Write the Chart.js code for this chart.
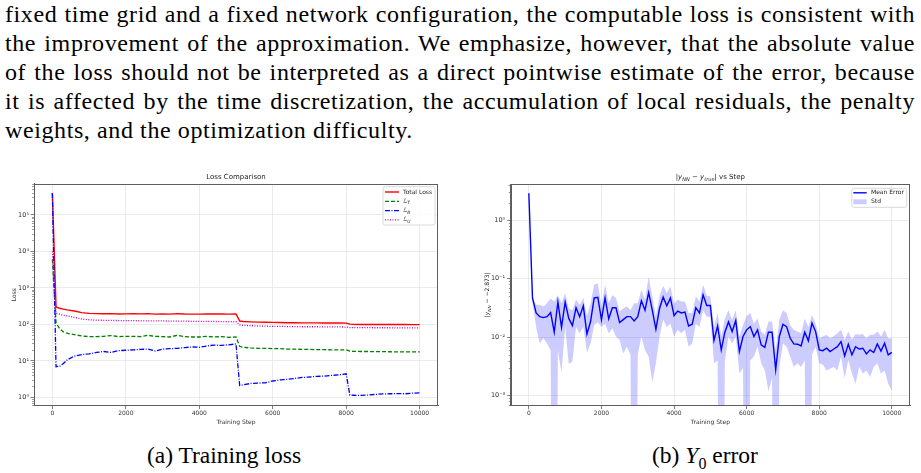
<!DOCTYPE html>
<html><head><meta charset="utf-8">
<script src="https://cdn.jsdelivr.net/npm/chart.js@4.4.1/dist/chart.umd.min.js"></script>
<style>
html,body{margin:0;padding:0;background:#fff;}
body{width:921px;height:473px;position:relative;overflow:hidden;font-family:"Liberation Serif",serif;color:#000;}
.para{position:absolute;left:5px;width:910px;top:0;font-size:24px;line-height:29px;letter-spacing:0.6px;}
.para div{text-align:justify;text-align-last:justify;height:29px;}
.para div.last{text-align-last:left;}
.cap{position:absolute;top:441px;font-size:23.5px;line-height:29px;text-align:center;width:300px;}
canvas{position:absolute;}
</style></head>
<body>
<div class="para">
<div>fixed time grid and a fixed network configuration, the computable loss is consistent with</div>
<div>the improvement of the approximation. We emphasize, however, that the absolute value</div>
<div>of the loss should not be interpreted as a direct pointwise estimate of the error, because</div>
<div>it is affected by the time discretization, the accumulation of local residuals, the penalty</div>
<div class="last">weights, and the optimization difficulty.</div>
</div>
<canvas id="c1" width="450" height="262" style="left:0px;top:168px;width:450px;height:262px"></canvas>
<canvas id="c2" width="459" height="262" style="left:462px;top:168px;width:459px;height:262px"></canvas>
<div class="cap" style="left:74px">(a) Training loss</div>
<div class="cap" style="left:555px">(b) <i>Y</i><sub style="font-size:16px">0</sub> error</div>
<script>
// ---------------- data: training loss ----------------
const lossSteps=[0,100,200,300,400,600,800,1000,1200,1400,1600,1800,2000,2200,2400,2600,2800,3000,3200,3400,3600,3800,4000,4200,4400,4600,4800,5000,5100,5200,5400,5600,5800,6000,6200,6400,6600,6800,7000,7200,7400,7600,7800,8000,8100,8200,8400,8600,8800,9000,9200,9400,9600,9800,10000];
const totalLoss=[4.0e5,300,275,262,250,232,210,200,196,195,196,192,194,195,193,197,191,192,191,196,192,191,190,193,192,192,191,192,123,120,117,115,114,113,112,111,111,110,110,110,109,109,109,108,101,100,99,99,99,99,99,99,99,98,98];
const lossT=[6000,110,75,62,57,52,48,46,46,47,49,46,47,47,46,50,47,46,45,50,46,45,45,47,45,46,44,45,25,23.5,22.5,22,22,21.5,21.5,21,21,20.5,20.5,20.3,20.2,20,20,20,18.5,18.2,18,18,17.8,17.8,17.7,17.6,17.6,17.5,17.5];
const lossB=[4.0e5,6.9,7.1,8.5,10.5,13.5,14.8,15.5,17,18,17,19,19.5,20,20.5,21,18.5,21,21.5,22,23,24,23.5,25.5,27,26.5,27.5,29,2.1,2.2,2.4,2.45,2.5,2.8,3.0,3.1,3.3,3.5,3.6,3.75,3.8,4.0,4.1,4.4,1.15,1.14,1.13,1.15,1.2,1.24,1.25,1.26,1.25,1.3,1.32];
const lossU=[1.0e4,200,190,180,170,155,140,133,130,129,128,127,126,126,125,125,124,124,123,123,122,121,121,120,120,119,119,118,96,94,92,90,89,88,88,87,87,86,86,86,85,85,85,84,81,81,81,81,80.5,80.5,80.5,80,80,80,80];
const lossTicksX=[0,2000,4000,6000,8000,10000];
const lossTicksY=[1,10,100,1e3,1e4,1e5];
const lossTickLabels=['10⁰','10¹','10²','10³','10⁴','10⁵'];

// ---------------- data: Y0 error ----------------
const errSteps=[0,100,200,300,400,500,600,700,800,900,1000,1100,1200,1300,1400,1500,1600,1700,1800,1900,2000,2100,2200,2300,2400,2500,2600,2700,2800,2900,3000,3100,3200,3300,3400,3500,3600,3700,3800,3900,4000,4100,4200,4300,4400,4500,4600,4700,4800,4900,5000,5100,5200,5300,5400,5500,5600,5700,5800,5900,6000,6100,6200,6300,6400,6500,6600,6700,6800,6900,7000,7100,7200,7300,7400,7500,7600,7700,7800,7900,8000,8100,8200,8300,8400,8500,8600,8700,8800,8900,9000,9100,9200,9300,9400,9500,9600,9700,9800,9900,10000];
const meanErr=[2.9,0.047,0.026,0.0225,0.0217,0.0225,0.0265,0.0122,0.040,0.0148,0.040,0.021,0.0158,0.032,0.0225,0.0344,0.0113,0.0186,0.047,0.048,0.0199,0.047,0.0206,0.032,0.032,0.0178,0.020,0.0225,0.0225,0.019,0.0225,0.042,0.029,0.058,0.029,0.0137,0.031,0.0485,0.0344,0.047,0.0235,0.028,0.026,0.027,0.0156,0.0167,0.032,0.026,0.053,0.035,0.035,0.0088,0.0156,0.0061,0.0122,0.0183,0.0125,0.0193,0.0057,0.0103,0.0134,0.0152,0.0103,0.0134,0.0074,0.0067,0.0122,0.0122,0.0028,0.0103,0.0167,0.0152,0.0096,0.0077,0.0076,0.0071,0.0122,0.0087,0.0174,0.0125,0.0061,0.0059,0.0065,0.0057,0.0063,0.0069,0.0084,0.0048,0.0076,0.005,0.0069,0.0063,0.0065,0.0052,0.0061,0.0055,0.0077,0.0058,0.0079,0.005,0.0055];
const bandUpper=[3.0,0.05,0.036,0.036,0.0336,0.038,0.046,0.041,0.053,0.038,0.057,0.031,0.029,0.044,0.036,0.047,0.023,0.038,0.079,0.084,0.034,0.079,0.038,0.053,0.047,0.0275,0.031,0.034,0.029,0.038,0.038,0.065,0.044,0.107,0.050,0.023,0.050,0.076,0.057,0.074,0.038,0.044,0.041,0.041,0.026,0.026,0.050,0.041,0.079,0.051,0.050,0.015,0.026,0.0103,0.021,0.029,0.020,0.029,0.0103,0.016,0.023,0.026,0.017,0.021,0.0125,0.011,0.0186,0.0186,0.006,0.020,0.029,0.026,0.016,0.0134,0.0125,0.0117,0.021,0.015,0.024,0.017,0.0096,0.0103,0.011,0.0096,0.0105,0.0117,0.0134,0.009,0.0125,0.0092,0.0114,0.011,0.0114,0.0096,0.011,0.011,0.0125,0.0103,0.0134,0.0096,0.0096];
// 0 = mean - std below zero (cannot be shown on a log axis)
const bandLower=[2.8,0.041,0.015,0.0078,0.0097,0.0078,0.006,0,0.006,0.0025,0.015,0.0035,0.0038,0.015,0.0117,0.015,0.0055,0.0078,0.016,0.018,0.015,0.017,0.0117,0.0143,0.0103,0.009,0.0053,0.0069,0.005,0,0.005,0.0103,0.006,0.0047,0.0017,0.0036,0.0103,0.02,0.015,0.017,0.0103,0.0134,0.0117,0.0134,0.0069,0.0078,0.017,0.015,0.029,0.0225,0.0225,0.0036,0.004,0,0.004,0.0103,0.0078,0.0103,0.0024,0.003,0,0.004,0.0047,0.0069,0.0036,0.0027,0.0012,0.002,0,0.003,0.0078,0.0069,0.0047,0.0031,0.0036,0.0031,0.004,0,0.005,0.0069,0.0036,0.0034,0.0027,0.0029,0.0031,0.0027,0.0047,0.002,0.0041,0.0024,0.0016,0.0031,0.0024,0.0027,0.0021,0.0031,0.0036,0.0024,0.0027,0.0016,0.0012];
const errTicksX=[0,2000,4000,6000,8000,10000];
const errTicksY=[1e-3,1e-2,1e-1,1];
const errTickLabels=['10⁻³','10⁻²','10⁻¹','10⁰'];

// ---------------- helpers ----------------
const FONT='"DejaVu Sans", sans-serif';
const pts=(xs,ys)=>xs.map((x,i)=>({x:x,y:ys[i]}));
function segFont(s,size){return (s.i?'italic ':'')+(s.sub?size*0.72:size)+'px '+FONT;}
function drawRich(ctx,segs,x,y,size,align){
  let w=0;
  segs.forEach(s=>{ctx.font=segFont(s,size);s.w=ctx.measureText(s.t).width;w+=s.w;});
  let cx=align==='center'?x-w/2:x;
  ctx.textAlign='left';ctx.textBaseline='middle';
  segs.forEach(s=>{ctx.font=segFont(s,size);ctx.fillText(s.t,cx,y+(s.sub?size*0.32:0));cx+=s.w;});
}
const framePlugin={id:'frame',afterDatasetsDraw(chart){
  const a=chart.chartArea,ctx=chart.ctx;ctx.save();
  ctx.strokeStyle='#5e5e5e';ctx.lineWidth=1;
  ctx.strokeRect(Math.round(a.left)+0.5,Math.round(a.top)+0.5,Math.round(a.right-a.left)-1,Math.round(a.bottom-a.top)-1);
  ctx.restore();}};
const minorPlugin={id:'minorTicks',afterDraw(chart){
  const y=chart.scales.y,a=chart.chartArea,ctx=chart.ctx;ctx.save();
  ctx.strokeStyle='#5e5e5e';ctx.lineWidth=0.6;
  for(let d=Math.floor(Math.log10(y.min));d<=Math.ceil(Math.log10(y.max));d++){
    for(let k=2;k<=9;k++){const v=k*Math.pow(10,d);if(v<y.min||v>y.max)continue;
      const py=Math.round(y.getPixelForValue(v))+0.5;
      ctx.beginPath();ctx.moveTo(a.left-2,py);ctx.lineTo(a.left,py);ctx.stroke();}}
  ctx.restore();}};
const legendPlugin={id:'boxLegend',afterDraw(chart,args,opts){
  const a=chart.chartArea,ctx=chart.ctx;ctx.save();
  const x2=a.right-opts.inset[0],y1=a.top+opts.inset[1],x1=x2-opts.w,y2=y1+opts.h;
  ctx.fillStyle='rgba(255,255,255,0.85)';ctx.strokeStyle='#d0d0d0';ctx.lineWidth=0.8;
  ctx.beginPath();ctx.roundRect(x1,y1,x2-x1,y2-y1,2);ctx.fill();ctx.stroke();
  opts.items.forEach((it,i)=>{
    const yy=y1+opts.first+i*opts.step;
    if(it.patch){ctx.fillStyle=it.color;ctx.fillRect(x1+opts.sx0,yy-2.5,opts.sx1-opts.sx0,5);}
    else{ctx.strokeStyle=it.color;ctx.lineWidth=it.width;ctx.setLineDash(it.dash||[]);
      ctx.beginPath();ctx.moveTo(x1+opts.sx0,yy);ctx.lineTo(x1+opts.sx1,yy);ctx.stroke();ctx.setLineDash([]);}
    ctx.fillStyle='#222';drawRich(ctx,it.label,x1+opts.tx,yy,6,'left');
  });
  ctx.restore();}};
const richTextPlugin={id:'richText',afterDraw(chart,args,opts){
  const ctx=chart.ctx,a=chart.chartArea;ctx.save();ctx.fillStyle='#222';
  (opts.items||[]).forEach(it=>{
    const x=it.rel==='center'?(a.left+a.right)/2:it.x;
    const y=it.relY==='middle'?(a.top+a.bottom)/2:it.y;
    if(it.rotate){ctx.save();ctx.translate(x,y);ctx.rotate(-Math.PI/2);drawRich(ctx,it.segs,0,0,it.size,'center');ctx.restore();}
    else drawRich(ctx,it.segs,x,y,it.size,'center');
  });
  ctx.restore();}};

const tickFont={family:FONT,size:6};
const gridCol='#e6e6e6';
function xScale(ticksArr,h){return {type:'linear',min:-500,max:10500,
  afterBuildTicks:s=>{s.ticks=ticksArr.map(v=>({value:v}));},
  afterFit:s=>{s.height=h;},
  ticks:{font:tickFont,color:'#333',padding:1,maxRotation:0,autoSkip:false,callback:v=>String(v)},
  grid:{color:gridCol,lineWidth:0.8,tickColor:'#5e5e5e',tickLength:3.5},
  border:{color:'#5e5e5e',width:1},
  title:{display:true,text:'Training Step',font:tickFont,color:'#333',padding:{top:0,bottom:4}}};}
function yScale(ticksArr,labels,min,max,w,pad,titleOpt){return {type:'logarithmic',min:min,max:max,
  afterBuildTicks:s=>{s.ticks=ticksArr.map(v=>({value:v}));},
  afterFit:s=>{s.width=w;},
  ticks:{font:{family:FONT,size:6.5},color:'#333',padding:pad,autoSkip:false,callback:(v,i)=>labels[ticksArr.indexOf(v)]},
  grid:{color:gridCol,lineWidth:0.8,tickColor:'#5e5e5e',tickLength:3.5},
  border:{color:'#5e5e5e',width:1},
  title:titleOpt};}

// ---------------- chart (a) ----------------
new Chart(document.getElementById('c1'),{
  type:'line',
  data:{datasets:[
    {label:'Total Loss',data:pts(lossSteps,totalLoss),borderColor:'#ff0000',borderWidth:1.4,order:3},
    {label:'L_T',data:pts(lossSteps,lossT),borderColor:'#008000',borderWidth:1.3,borderDash:[4,2],order:2},
    {label:'L_B',data:pts(lossSteps,lossB),borderColor:'#0000ff',borderWidth:1.3,borderDash:[5,1.5,1,1.5],order:1},
    {label:'L_U',data:pts(lossSteps,lossU),borderColor:'#bf00bf',borderWidth:1.3,borderDash:[1,1.5],order:0}
  ]},
  options:{animation:false,responsive:false,devicePixelRatio:1,
    elements:{point:{radius:0},line:{tension:0,fill:false}},
    layout:{padding:{left:0,right:12,top:0,bottom:0}},
    plugins:{legend:{display:false},tooltip:{enabled:false},
      title:{display:true,text:'Loss Comparison',fullSize:false,font:{family:FONT,size:7,weight:'normal'},color:'#222',padding:{top:5,bottom:2.1}},
      boxLegend:{inset:[3,3.2],w:52,h:38.3,first:5.3,step:9.3,sx0:2,sx1:16,tx:20,items:[
        {color:'#ff0000',width:1.4,label:[{t:'Total Loss'}]},
        {color:'#008000',width:1.3,dash:[4,2],label:[{t:'ℒ',i:true},{t:'T',i:true,sub:true}]},
        {color:'#0000ff',width:1.3,dash:[5,1.5,1,1.5],label:[{t:'ℒ',i:true},{t:'B',i:true,sub:true}]},
        {color:'#bf00bf',width:1.3,dash:[1,1.5],label:[{t:'ℒ',i:true},{t:'U',i:true,sub:true}]}
      ]}},
    scales:{
      x:xScale(lossTicksX,24.3),
      y:yScale(lossTicksY,lossTickLabels,Math.pow(10,-0.23),Math.pow(10,5.86),34,1.5,
        {display:true,text:'Loss',font:tickFont,color:'#333',padding:{top:10.4,bottom:0}})
    }},
  plugins:[framePlugin,minorPlugin,legendPlugin]
});

// ---------------- chart (b) ----------------
new Chart(document.getElementById('c2'),{
  type:'line',
  data:{datasets:[
    {label:'Mean Error',data:pts(errSteps,meanErr),borderColor:'#0000ff',borderWidth:1.4,fill:false},
    {label:'Std',data:pts(errSteps,bandUpper),borderWidth:0,borderColor:'rgba(0,0,0,0)',backgroundColor:'rgba(0,0,255,0.2)',fill:'+1'},
    {label:'Std lower',data:pts(errSteps,bandLower.map(v=>v>0?v:1e-12)),borderWidth:0,borderColor:'rgba(0,0,0,0)',fill:false}
  ]},
  options:{animation:false,responsive:false,devicePixelRatio:1,
    elements:{point:{radius:0},line:{tension:0}},
    layout:{padding:{left:0,right:11,top:16,bottom:0}},
    plugins:{legend:{display:false},tooltip:{enabled:false},
      richText:{items:[
        {rel:'center',y:9.3,size:7,segs:[{t:'|'},{t:'y',i:true},{t:'NN',i:true,sub:true},{t:' − '},{t:'y',i:true},{t:'true',i:true,sub:true},{t:'| vs Step'}]},
        {x:25.7,relY:'middle',rotate:true,size:6,segs:[{t:'|'},{t:'y',i:true},{t:'NN',i:true,sub:true},{t:' − −2.873|'}]}
      ]},
      boxLegend:{inset:[3.3,4.3],w:55,h:19,first:4.5,step:9,sx0:1.6,sx1:15,tx:19.3,items:[
        {color:'#0000ff',width:1.4,label:[{t:'Mean Error'}]},
        {patch:true,color:'rgba(0,0,255,0.2)',label:[{t:'Std'}]}
      ]}},
    scales:{
      x:xScale(errTicksX,24.3),
      y:yScale(errTicksY,errTickLabels,Math.pow(10,-3.17),Math.pow(10,0.62),48.7,2,{display:false})
    }},
  plugins:[framePlugin,minorPlugin,legendPlugin,richTextPlugin]
});
</script>
</body></html>
